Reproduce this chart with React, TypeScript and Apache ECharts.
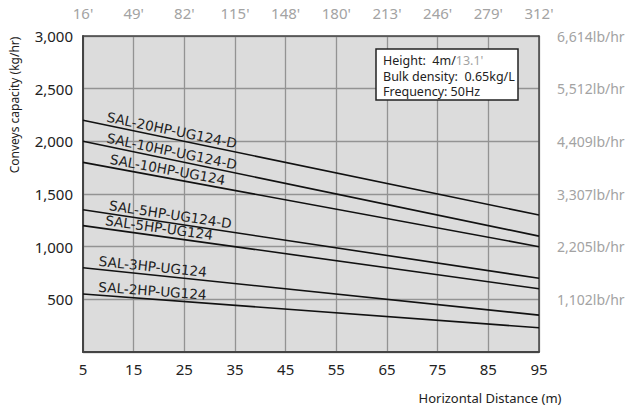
import React, { useEffect, useRef } from "react";
import * as echarts from "echarts";

const distanceM = [5, 95];
const seriesNames = [
  "SAL-20HP-UG124-D",
  "SAL-10HP-UG124-D",
  "SAL-10HP-UG124",
  "SAL-5HP-UG124-D",
  "SAL-5HP-UG124",
  "SAL-3HP-UG124",
  "SAL-2HP-UG124",
];
const sal20hpD = [2200, 1300];
const sal10hpD = [2000, 1100];
const sal10hp = [1800, 1000];
const sal5hpD = [1350, 700];
const sal5hp = [1200, 600];
const sal3hp = [800, 350];
const sal2hp = [550, 230];
const seriesValues = [sal20hpD, sal10hpD, sal10hp, sal5hpD, sal5hp, sal3hp, sal2hp];
const labelAtM = [22.2, 22.2, 21.4, 22, 19.8, 18.6, 18.6];

const feetLabels = ["16'", "49'", "82'", "115'", "148'", "180'", "213'", "246'", "279'", "312'"];
const lbLabels: Record<number, string> = {
  500: "1,102lb/hr",
  1000: "2,205lb/hr",
  1500: "3,307lb/hr",
  2000: "4,409lb/hr",
  2500: "5,512lb/hr",
  3000: "6,614lb/hr",
};

const FONT = "'Noto Sans', sans-serif";

export default function App() {
  const ref = useRef<HTMLDivElement>(null);
  useEffect(() => {
    if (!ref.current) return;
    const chart = echarts.init(ref.current, null, { renderer: "svg" });
    chart.setOption({
      animation: false,
      backgroundColor: "#ffffff",
      grid: {
        left: 83,
        right: 93,
        top: 36,
        bottom: 57,
        show: true,
        backgroundColor: "#dcdcdc",
        borderWidth: 0,
      },
      xAxis: [
        {
          type: "value",
          min: 5,
          max: 95,
          interval: 10,
          position: "bottom",
          axisLine: { show: true, onZero: false, lineStyle: { color: "#444", width: 2 } },
          axisTick: { show: false },
          splitLine: { show: true, lineStyle: { color: "#939393", width: 1.3 } },
          axisLabel: { color: "#222", fontSize: 15, margin: 9, fontFamily: FONT },
        },
        {
          type: "value",
          min: 5,
          max: 95,
          interval: 10,
          position: "top",
          axisLine: { show: true, onZero: false, lineStyle: { color: "#444", width: 1.5 } },
          axisTick: { show: false },
          splitLine: { show: false },
          axisLabel: {
            color: "#a3a3a3",
            fontSize: 15,
            margin: 16,
            fontFamily: FONT,
            formatter: (v: number) => feetLabels[Math.round((v - 5) / 10)] ?? "",
          },
        },
      ],
      yAxis: [
        {
          type: "value",
          min: 0,
          max: 3000,
          interval: 500,
          position: "left",
          axisLine: { show: true, onZero: false, lineStyle: { color: "#444", width: 2 } },
          axisTick: { show: false },
          splitLine: { show: true, lineStyle: { color: "#939393", width: 1.3 } },
          axisLabel: {
            color: "#222",
            fontSize: 15,
            margin: 10,
            fontFamily: FONT,
            formatter: (v: number) => (v === 0 ? "" : v.toLocaleString("en-US")),
          },
        },
        {
          type: "value",
          min: 0,
          max: 3000,
          interval: 500,
          position: "right",
          axisLine: { show: true, onZero: false, lineStyle: { color: "#444", width: 1.5 } },
          axisTick: { show: false },
          splitLine: { show: false },
          axisLabel: {
            color: "#a3a3a3",
            fontSize: 14,
            margin: 18,
            fontFamily: FONT,
            formatter: (v: number) => lbLabels[v] ?? "",
          },
        },
      ],
      series: seriesNames.map((name, i) => ({
        name,
        type: "line",
        xAxisIndex: 0,
        yAxisIndex: 0,
        symbol: "none",
        lineStyle: { color: "#111", width: 1.6 },
        data: distanceM.map((d, j) => [d, seriesValues[i][j]]),
      })),
    });

    const labelGraphics = seriesNames.map((name, i) => {
      const v = seriesValues[i];
      const p0 = chart.convertToPixel({ xAxisIndex: 0, yAxisIndex: 0 }, [distanceM[0], v[0]]) as number[];
      const p1 = chart.convertToPixel({ xAxisIndex: 0, yAxisIndex: 0 }, [distanceM[1], v[1]]) as number[];
      const theta = Math.atan2(p1[1] - p0[1], p1[0] - p0[0]);
      const t = (labelAtM[i] - distanceM[0]) / (distanceM[1] - distanceM[0]);
      const cx = p0[0] + (p1[0] - p0[0]) * t;
      const cy = p0[1] + (p1[1] - p0[1]) * t;
      const off = 8.5;
      return {
        type: "text",
        x: cx + off * Math.sin(theta),
        y: cy - off * Math.cos(theta),
        rotation: -theta,
        style: {
          text: name,
          fill: "#222",
          fontSize: 13.6,
          fontFamily: "'DejaVu Sans', sans-serif",
          align: "center",
          verticalAlign: "middle",
        },
        z: 10,
      };
    });

    chart.setOption({
      graphic: [
        ...labelGraphics,
        {
          type: "rect",
          shape: { x: 376, y: 49, width: 142, height: 51 },
          style: { fill: "#ffffff", stroke: "#222", lineWidth: 1.5 },
          z: 20,
        },
        {
          type: "text",
          x: 383,
          y: 53,
          z: 21,
          style: {
            text: "{a|Height:  4m/}{g|13.1'}\n{a|Bulk density:  0.65kg/L}\n{a|Frequency: 50Hz}",
            fontFamily: FONT,
            fontSize: 12.5,
            lineHeight: 15.5,
            fill: "#222",
            rich: {
              a: { fill: "#222", fontSize: 12.5, fontFamily: FONT, lineHeight: 15.5 },
              g: { fill: "#a3a3a3", fontSize: 12.5, fontFamily: FONT, lineHeight: 15.5 },
            },
          },
        },
        {
          type: "text",
          x: 14,
          y: 105,
          rotation: Math.PI / 2,
          style: {
            text: "Conveys capacity (kg/hr)",
            fontFamily: FONT,
            fontSize: 12,
            fill: "#222",
            align: "center",
            verticalAlign: "middle",
          },
        },
        {
          type: "text",
          x: 490,
          y: 398,
          style: {
            text: "Horizontal Distance (m)",
            fontFamily: FONT,
            fontSize: 13,
            fill: "#222",
            align: "center",
            verticalAlign: "middle",
          },
        },
      ],
    });

    return () => chart.dispose();
  }, []);

  return (
    <div
      ref={ref}
      style={{ position: "fixed", left: 0, top: 0, width: 632, height: 409 }}
    />
  );
}
